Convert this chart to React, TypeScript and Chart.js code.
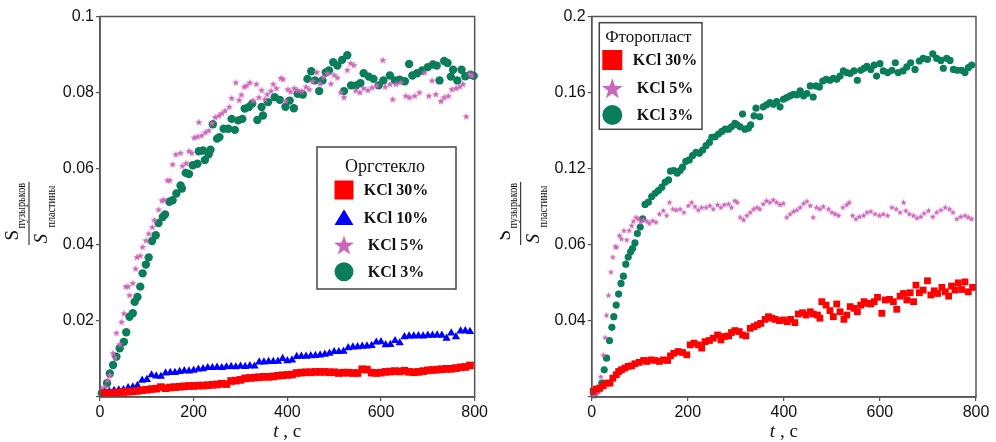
import React, { useEffect, useRef } from "react";
import { Chart, registerables } from "chart.js";

Chart.register(...registerables);

// ---------- tick labels ----------
const xTickLabels = ["0", "200", "400", "600", "800"];
const orgYTickLabels = ["", "0.02", "0.04", "0.06", "0.08", "0.1"];
const ftYTickLabels = ["", "0.04", "0.06", "0.12", "0.16", "0.2"];

// ---------- series labels ----------
const label30 = "KCl 30%";
const label10 = "KCl 10%";
const label5 = "KCl 5%";
const label3 = "KCl 3%";
const orgTitle = "Оргстекло";
const ftTitle = "Фторопласт";

// ---------- Оргстекло (left) : [t, S/S] ----------
const org30: [number, number][] = [
  [10, 0.0010], [20, 0.0010], [30, 0.0011], [40, 0.0012], [50, 0.0013], [60, 0.0014], [70, 0.0015], [80, 0.0016], [90, 0.0018], [100, 0.0019],
  [110, 0.0021], [120, 0.0022], [130, 0.0026], [140, 0.0023], [150, 0.0025], [160, 0.0026], [170, 0.0027], [180, 0.0028], [190, 0.0029], [200, 0.0029],
  [210, 0.0030], [220, 0.0030], [230, 0.0031], [240, 0.0032], [250, 0.0033], [260, 0.0035], [270, 0.0034], [280, 0.0042], [290, 0.0043], [300, 0.0045],
  [310, 0.0049], [320, 0.0050], [330, 0.0051], [340, 0.0052], [350, 0.0053], [360, 0.0053], [370, 0.0054], [380, 0.0056], [390, 0.0057], [400, 0.0058],
  [410, 0.0059], [420, 0.0063], [430, 0.0064], [440, 0.0065], [450, 0.0065], [460, 0.0066], [470, 0.0066], [480, 0.0066], [490, 0.0065], [500, 0.0065],
  [510, 0.0063], [520, 0.0064], [530, 0.0064], [540, 0.0063], [550, 0.0063], [560, 0.0073], [570, 0.0072], [580, 0.0064], [590, 0.0063], [600, 0.0064],
  [610, 0.0066], [620, 0.0067], [630, 0.0068], [640, 0.0067], [650, 0.0069], [660, 0.0066], [670, 0.0065], [680, 0.0066], [690, 0.0068], [700, 0.0070],
  [710, 0.0071], [720, 0.0072], [730, 0.0073], [740, 0.0074], [750, 0.0074], [760, 0.0076], [770, 0.0078], [780, 0.0079], [790, 0.0083],
];

const org10: [number, number][] = [
  [10, 0.0012], [20, 0.0014], [30, 0.0017], [40, 0.0018], [50, 0.0019], [60, 0.0024], [70, 0.0026], [80, 0.0030], [90, 0.0044], [100, 0.0046],
  [110, 0.0058], [120, 0.0055], [130, 0.0054], [140, 0.0063], [150, 0.0064], [160, 0.0064], [170, 0.0067], [180, 0.0069], [190, 0.0068], [200, 0.0070],
  [210, 0.0073], [220, 0.0074], [230, 0.0077], [240, 0.0077], [250, 0.0078], [260, 0.0077], [270, 0.0079], [280, 0.0080], [290, 0.0079], [300, 0.0081],
  [310, 0.0080], [320, 0.0082], [330, 0.0081], [340, 0.0092], [350, 0.0092], [360, 0.0093], [370, 0.0093], [380, 0.0094], [390, 0.0101], [400, 0.0095],
  [410, 0.0097], [420, 0.0106], [430, 0.0107], [440, 0.0107], [450, 0.0108], [460, 0.0109], [470, 0.0110], [480, 0.0112], [490, 0.0115], [500, 0.0119],
  [510, 0.0119], [520, 0.0120], [530, 0.0129], [540, 0.0131], [550, 0.0132], [560, 0.0133], [570, 0.0134], [580, 0.0135], [590, 0.0144], [600, 0.0145],
  [610, 0.0137], [620, 0.0138], [630, 0.0148], [640, 0.0142], [650, 0.0158], [660, 0.0160], [670, 0.0160], [680, 0.0161], [690, 0.0160], [700, 0.0162],
  [710, 0.0162], [720, 0.0163], [730, 0.0162], [740, 0.0154], [750, 0.0168], [760, 0.0158], [770, 0.0173], [780, 0.0174], [790, 0.0172],
];

const org5: [number, number][] = [
  [4, 0.0023], [11, 0.0027], [16, 0.0045], [21, 0.0058], [28, 0.0116], [32, 0.0104], [35, 0.0169], [42, 0.0139], [46, 0.0198], [51, 0.0220],
  [55, 0.0291], [60, 0.0291], [63, 0.0268], [70, 0.0300], [76, 0.0338], [79, 0.0368], [86, 0.0372], [91, 0.0395], [98, 0.0412], [104, 0.0430],
  [112, 0.0447], [116, 0.0466], [125, 0.0493], [132, 0.0517], [137, 0.0519], [144, 0.0570], [149, 0.0570], [155, 0.0612], [162, 0.0638], [172, 0.0642],
  [176, 0.0608], [184, 0.0615], [190, 0.0647], [196, 0.0642], [201, 0.0682], [208, 0.0685], [211, 0.0723], [217, 0.0688], [225, 0.0696], [232, 0.0701],
  [239, 0.0720], [246, 0.0736], [254, 0.0740], [260, 0.0746], [267, 0.0753], [276, 0.0763], [281, 0.0786], [290, 0.0827], [297, 0.0781], [302, 0.0795],
  [308, 0.0816], [313, 0.0819], [320, 0.0827], [327, 0.0780], [334, 0.0823], [339, 0.0788], [345, 0.0807], [352, 0.0783], [357, 0.0796], [365, 0.0805],
  [370, 0.0823], [377, 0.0812], [386, 0.0839], [391, 0.0836], [396, 0.0779], [401, 0.0809], [407, 0.0803], [415, 0.0812], [422, 0.0807], [431, 0.0805],
  [440, 0.0816], [447, 0.0809], [454, 0.0830], [463, 0.0854], [470, 0.0824], [477, 0.0842], [486, 0.0851], [493, 0.0824], [500, 0.0847], [507, 0.0840],
  [514, 0.0801], [521, 0.0788], [528, 0.0860], [535, 0.0878], [542, 0.0873], [546, 0.0806], [555, 0.0801], [563, 0.0812], [572, 0.0807], [581, 0.0814],
  [591, 0.0819], [604, 0.0886], [609, 0.0816], [619, 0.0823], [625, 0.0783], [632, 0.0823], [642, 0.0827], [653, 0.0792], [661, 0.0788], [672, 0.0792],
  [682, 0.0801], [693, 0.0853], [702, 0.0792], [709, 0.0832], [717, 0.0796], [728, 0.0778], [735, 0.0788], [744, 0.0792], [751, 0.0809], [760, 0.0812],
  [768, 0.0816], [775, 0.0823], [782, 0.0738], [790, 0.0849], [795, 0.0845],
];

const org3: [number, number][] = [
  [4, 0.0010], [15, 0.0036], [21, 0.0062], [28, 0.0084], [35, 0.0106], [42, 0.0128], [51, 0.0145], [56, 0.0170], [63, 0.0211], [70, 0.0220],
  [74, 0.0250], [80, 0.0263], [86, 0.0290], [91, 0.0325], [98, 0.0348], [104, 0.0367], [111, 0.0410], [119, 0.0425], [125, 0.0457], [134, 0.0473],
  [139, 0.0480], [148, 0.0513], [155, 0.0517], [163, 0.0535], [172, 0.0556], [175, 0.0548], [183, 0.0589], [190, 0.0586], [198, 0.0609], [208, 0.0613],
  [211, 0.0646], [220, 0.0648], [224, 0.0623], [232, 0.0638], [236, 0.0650], [241, 0.0717], [250, 0.0679], [255, 0.0683], [264, 0.0705], [274, 0.0705],
  [281, 0.0731], [288, 0.0702], [295, 0.0727], [304, 0.0731], [309, 0.0758], [318, 0.0762], [325, 0.0771], [336, 0.0728], [345, 0.0762], [348, 0.0740],
  [359, 0.0775], [373, 0.0788], [384, 0.0781], [396, 0.0763], [405, 0.0779], [414, 0.0759], [422, 0.0797], [433, 0.0795], [443, 0.0836], [451, 0.0856],
  [459, 0.0832], [468, 0.0804], [475, 0.0832], [482, 0.0853], [489, 0.0858], [498, 0.0880], [507, 0.0871], [517, 0.0886], [521, 0.0804], [528, 0.0898],
  [536, 0.0819], [547, 0.0819], [556, 0.0825], [563, 0.0851], [574, 0.0842], [584, 0.0836], [595, 0.0819], [605, 0.0832], [619, 0.0845], [630, 0.0832],
  [640, 0.0834], [651, 0.0830], [660, 0.0875], [667, 0.0845], [677, 0.0851], [688, 0.0858], [700, 0.0867], [711, 0.0874], [719, 0.0871], [725, 0.0832],
  [735, 0.0883], [742, 0.0878], [749, 0.0842], [754, 0.0860], [763, 0.0832], [772, 0.0860], [780, 0.0843], [791, 0.0847], [798, 0.0844],
];

// ---------- Фторопласт (right) : [t, S/S] ----------
const ft30: [number, number][] = [
  [3, 0.0030], [10, 0.0042], [17, 0.0047], [24, 0.0059], [31, 0.0073], [38, 0.0073], [44, 0.0099], [51, 0.0117], [56, 0.0134], [62, 0.0143],
  [69, 0.0152], [76, 0.0161], [83, 0.0164], [90, 0.0175], [99, 0.0182], [108, 0.0192], [115, 0.0187], [123, 0.0195], [132, 0.0192], [141, 0.0187],
  [149, 0.0195], [158, 0.0192], [164, 0.0216], [171, 0.0230], [180, 0.0239], [189, 0.0234], [198, 0.0222], [205, 0.0274], [213, 0.0283], [222, 0.0274],
  [229, 0.0257], [236, 0.0291], [245, 0.0297], [253, 0.0309], [262, 0.0326], [269, 0.0300], [276, 0.0318], [285, 0.0321], [291, 0.0339], [298, 0.0349],
  [307, 0.0344], [314, 0.0326], [321, 0.0321], [330, 0.0361], [338, 0.0370], [345, 0.0379], [352, 0.0387], [361, 0.0408], [368, 0.0422], [375, 0.0414],
  [382, 0.0408], [391, 0.0401], [399, 0.0405], [407, 0.0396], [414, 0.0408], [423, 0.0391], [430, 0.0436], [439, 0.0443], [446, 0.0431], [455, 0.0448],
  [461, 0.0436], [470, 0.0431], [475, 0.0414], [479, 0.0501], [488, 0.0483], [496, 0.0454], [503, 0.0422], [510, 0.0489], [517, 0.0448], [525, 0.0408],
  [531, 0.0431], [538, 0.0475], [546, 0.0466], [553, 0.0448], [560, 0.0483], [567, 0.0501], [574, 0.0492], [581, 0.0489], [588, 0.0501], [595, 0.0524],
  [604, 0.0440], [611, 0.0510], [620, 0.0513], [628, 0.0501], [635, 0.0461], [642, 0.0530], [649, 0.0544], [656, 0.0510], [663, 0.0548], [670, 0.0501],
  [675, 0.0588], [682, 0.0548], [690, 0.0562], [699, 0.0611], [706, 0.0536], [713, 0.0558], [720, 0.0544], [729, 0.0576], [736, 0.0553], [743, 0.0530],
  [749, 0.0583], [756, 0.0562], [763, 0.0600], [770, 0.0565], [777, 0.0605], [784, 0.0553], [793, 0.0576],
];

const ft5: [number, number][] = [
  [5, 0.0007], [10, 0.0021], [15, 0.0030], [19, 0.0108], [24, 0.0222], [28, 0.0314], [31, 0.0431], [35, 0.0536], [40, 0.0658], [44, 0.0736],
  [49, 0.0792], [52, 0.0789], [58, 0.0850], [62, 0.0832], [67, 0.0876], [73, 0.0827], [78, 0.0876], [83, 0.0902], [87, 0.0925], [92, 0.0946],
  [97, 0.0937], [102, 0.0920], [108, 0.0932], [115, 0.0925], [120, 0.0914], [127, 0.0928], [134, 0.0920], [141, 0.0963], [149, 0.0981], [156, 0.0955],
  [162, 0.1024], [169, 0.0989], [176, 0.0984], [184, 0.0989], [192, 0.0972], [201, 0.1007], [208, 0.1024], [215, 0.1002], [222, 0.0984], [229, 0.0998],
  [238, 0.0998], [246, 0.1007], [253, 0.0989], [262, 0.1012], [269, 0.0998], [276, 0.1012], [285, 0.1016], [291, 0.0998], [298, 0.1033], [303, 0.1024],
  [309, 0.0946], [316, 0.0932], [323, 0.0955], [330, 0.0972], [337, 0.0989], [344, 0.0998], [350, 0.0989], [357, 0.1016], [364, 0.1033], [371, 0.1024],
  [378, 0.1037], [385, 0.1024], [392, 0.1012], [399, 0.1019], [406, 0.0946], [413, 0.0963], [420, 0.0977], [427, 0.0984], [434, 0.0998], [441, 0.1019],
  [448, 0.1030], [455, 0.1007], [461, 0.0946], [468, 0.0998], [475, 0.0989], [482, 0.1002], [493, 0.0989], [500, 0.0972], [507, 0.0963], [514, 0.0955],
  [523, 0.0998], [531, 0.1012], [536, 0.1024], [543, 0.0955], [550, 0.0937], [557, 0.0949], [566, 0.0955], [573, 0.0972], [581, 0.0977], [590, 0.0963],
  [599, 0.0955], [607, 0.0963], [616, 0.0955], [625, 0.0998], [634, 0.0989], [642, 0.0972], [649, 0.1024], [654, 0.0981], [661, 0.0963], [670, 0.0955],
  [677, 0.0942], [685, 0.0949], [692, 0.0967], [701, 0.0981], [710, 0.0949], [718, 0.0972], [727, 0.0984], [736, 0.0998], [745, 0.0989], [752, 0.0972],
  [760, 0.0937], [768, 0.0949], [777, 0.0955], [784, 0.0946], [791, 0.0937],
];

const ft3: [number, number][] = [
  [5, 0.0012], [10, 0.0030], [16, 0.0042], [21, 0.0073], [26, 0.0143], [31, 0.0204], [37, 0.0297], [42, 0.0366], [46, 0.0422], [51, 0.0483],
  [56, 0.0541], [61, 0.0597], [66, 0.0635], [71, 0.0698], [76, 0.0736], [81, 0.0763], [85, 0.0780], [90, 0.0810], [95, 0.0859], [101, 0.0893],
  [106, 0.0937], [111, 0.1012], [118, 0.1024], [125, 0.1054], [132, 0.1071], [139, 0.1085], [146, 0.1103], [153, 0.1129], [160, 0.1141], [164, 0.1187],
  [171, 0.1190], [178, 0.1176], [184, 0.1190], [189, 0.1208], [196, 0.1239], [203, 0.1246], [210, 0.1269], [217, 0.1286], [224, 0.1281], [231, 0.1298],
  [238, 0.1321], [245, 0.1338], [250, 0.1365], [257, 0.1368], [264, 0.1382], [271, 0.1396], [278, 0.1408], [285, 0.1408], [291, 0.1420], [298, 0.1438],
  [303, 0.1431], [309, 0.1420], [314, 0.1487], [319, 0.1408], [326, 0.1413], [331, 0.1431], [338, 0.1478], [342, 0.1518], [350, 0.1473], [357, 0.1525],
  [364, 0.1536], [371, 0.1548], [378, 0.1539], [385, 0.1553], [392, 0.1525], [399, 0.1565], [406, 0.1574], [413, 0.1583], [420, 0.1591], [427, 0.1588],
  [434, 0.1609], [441, 0.1583], [448, 0.1595], [455, 0.1635], [461, 0.1577], [467, 0.1635], [474, 0.1630], [481, 0.1661], [488, 0.1670], [496, 0.1665],
  [503, 0.1675], [510, 0.1670], [517, 0.1687], [524, 0.1714], [531, 0.1705], [538, 0.1700], [546, 0.1714], [553, 0.1665], [560, 0.1717], [567, 0.1728],
  [573, 0.1738], [581, 0.1722], [588, 0.1745], [593, 0.1687], [600, 0.1752], [607, 0.1714], [616, 0.1705], [625, 0.1717], [632, 0.1757], [638, 0.1705],
  [648, 0.1714], [656, 0.1735], [664, 0.1757], [673, 0.1722], [682, 0.1766], [690, 0.1780], [699, 0.1775], [710, 0.1804], [718, 0.1780], [727, 0.1769],
  [732, 0.1728], [739, 0.1780], [746, 0.1769], [753, 0.1722], [761, 0.1717], [770, 0.1717], [777, 0.1705], [784, 0.1731], [791, 0.1745],
];

// ---------- styles ----------
const RED = "#ff0000";
const BLUE = "#0000ff";
const PINK = "#cc66bb";
const GREEN = "#0a7d5a";
const AXIS = "#555555";
const TEXT = "#111111";

type MarkerKind = "square" | "triangle" | "star" | "circle";

function starPath(ctx: CanvasRenderingContext2D, cx: number, cy: number, ro: number, ri: number) {
  ctx.beginPath();
  for (let i = 0; i < 10; i++) {
    const r = i % 2 === 0 ? ro : ri;
    const a = -Math.PI / 2 + (i * Math.PI) / 5;
    const px = cx + r * Math.cos(a);
    const py = cy + r * Math.sin(a);
    if (i === 0) ctx.moveTo(px, py);
    else ctx.lineTo(px, py);
  }
  ctx.closePath();
}

function makeStarImage(size: number, color: string): HTMLCanvasElement {
  const c = document.createElement("canvas");
  c.width = size;
  c.height = size;
  const g = c.getContext("2d")!;
  g.fillStyle = color;
  starPath(g, size / 2, size / 2 + size * 0.06, size / 2, size / 5);
  g.fill();
  return c;
}

function drawMarker(ctx: CanvasRenderingContext2D, kind: MarkerKind, cx: number, cy: number, s: number, color: string) {
  ctx.fillStyle = color;
  if (kind === "square") {
    ctx.fillRect(cx - s / 2, cy - s / 2, s, s);
  } else if (kind === "triangle") {
    ctx.beginPath();
    ctx.moveTo(cx, cy - s * 0.45);
    ctx.lineTo(cx + s / 2, cy + s * 0.38);
    ctx.lineTo(cx - s / 2, cy + s * 0.38);
    ctx.closePath();
    ctx.fill();
  } else if (kind === "star") {
    starPath(ctx, cx, cy + s * 0.05, s * 0.55, s * 0.22);
    ctx.fill();
  } else {
    ctx.beginPath();
    ctx.arc(cx, cy, s / 2, 0, Math.PI * 2);
    ctx.fill();
  }
}

type LegendSpec = {
  title: string;
  box: [number, number, number, number];
  titleX: number;
  titleY: number;
  titleFont: string;
  markerX: number;
  textX: number;
  rows: number[];
  size: number;
  items: { label: string; kind: MarkerKind; color: string }[];
};

function decorPlugin(legend: LegendSpec) {
  return {
    id: "decor",
    afterDraw(chart: any) {
      const ctx: CanvasRenderingContext2D = chart.ctx;
      const a = chart.chartArea;
      ctx.save();
      // frame
      ctx.strokeStyle = AXIS;
      ctx.lineWidth = 1.5;
      ctx.strokeRect(a.left, a.top, a.right - a.left, a.bottom - a.top);

      // y title (fraction)
      ctx.save();
      ctx.translate(a.left - 71, 213.5);
      ctx.rotate(-Math.PI / 2);
      ctx.strokeStyle = TEXT;
      ctx.fillStyle = TEXT;
      ctx.lineWidth = 1;
      ctx.beginPath();
      ctx.moveTo(-31.5, 0);
      ctx.lineTo(31.5, 0);
      ctx.stroke();
      ctx.textAlign = "left";
      ctx.textBaseline = "alphabetic";
      ctx.font = "19px 'Liberation Serif'";
      ctx.fillText("S", -27, -11);
      ctx.font = "italic 19px 'Liberation Serif'";
      ctx.fillText("S", -30, 18);
      ctx.save();
      ctx.scale(0.85, 1);
      ctx.font = "12px 'Liberation Serif'";
      ctx.fillText("пузырьков", -15 / 0.85, -4);
      ctx.fillText("пластины", -14 / 0.85, 26);
      ctx.restore();
      ctx.restore();

      // x title
      const cx = (a.left + a.right) / 2;
      ctx.fillStyle = TEXT;
      ctx.textBaseline = "alphabetic";
      ctx.textAlign = "left";
      ctx.font = "italic 19px 'Liberation Serif'";
      const wT = ctx.measureText("t").width;
      ctx.font = "19px 'Liberation Serif'";
      const rest = " , с";
      const wR = ctx.measureText(rest).width;
      const x0 = cx - (wT + wR) / 2;
      ctx.font = "italic 19px 'Liberation Serif'";
      ctx.fillText("t", x0, 437);
      ctx.font = "19px 'Liberation Serif'";
      ctx.fillText(rest, x0 + wT, 437);

      // legend
      const [bx, by, bw, bh] = legend.box;
      ctx.fillStyle = "#ffffff";
      ctx.fillRect(bx, by, bw, bh);
      ctx.strokeStyle = "#444444";
      ctx.lineWidth = 1.5;
      ctx.strokeRect(bx, by, bw, bh);
      ctx.fillStyle = TEXT;
      ctx.textAlign = "center";
      ctx.textBaseline = "alphabetic";
      ctx.font = legend.titleFont;
      ctx.fillText(legend.title, legend.titleX, legend.titleY);
      ctx.font = "bold 16px 'Liberation Serif'";
      ctx.textBaseline = "middle";
      legend.items.forEach((it, i) => {
        const y = legend.rows[i];
        drawMarker(ctx, it.kind, legend.markerX, y, legend.size, it.color);
        ctx.fillStyle = TEXT;
        ctx.fillText(it.label, legend.textX, y + 1);
      });
      ctx.restore();
    },
  };
}

function toPoints(arr: [number, number][]) {
  return arr.map(([x, y]) => ({ x, y }));
}

function axisCommon() {
  return {
    grid: { display: true, drawOnChartArea: false, drawTicks: true, tickLength: 4, color: AXIS, lineWidth: 1.2 },
    border: { display: true, color: AXIS, width: 1.5 },
  };
}

function buildConfig(opts: {
  datasets: any[];
  yMax: number;
  yStep: number;
  yLabels: string[];
  yWidth: number;
  padRight: number;
  legend: LegendSpec;
}) {
  const tickFont = { family: "'Liberation Sans', Arial, sans-serif", size: 16 };
  return {
    type: "scatter" as const,
    data: { datasets: opts.datasets },
    options: {
      animation: false,
      responsive: false,
      events: [],
      layout: { autoPadding: false, padding: { left: 0, right: opts.padRight, top: 16.5, bottom: 0 } },
      plugins: { legend: { display: false }, tooltip: { enabled: false } },
      scales: {
        x: {
          type: "linear",
          min: 0,
          max: 800,
          afterFit: (s: any) => {
            s.height = 45;
          },
          ticks: {
            stepSize: 200,
            autoSkip: false,
            maxRotation: 0,
            padding: 2,
            color: TEXT,
            font: tickFont,
            callback: (_v: any, i: number) => xTickLabels[i],
          },
          ...axisCommon(),
        },
        y: {
          type: "linear",
          min: 0,
          max: opts.yMax,
          afterFit: (s: any) => {
            s.width = opts.yWidth;
          },
          ticks: {
            stepSize: opts.yStep,
            autoSkip: false,
            padding: 2,
            color: TEXT,
            font: tickFont,
            callback: (_v: any, i: number) => opts.yLabels[i],
          },
          ...axisCommon(),
        },
      },
    },
    plugins: [decorPlugin(opts.legend)],
  };
}

function ds(label: string, data: [number, number][], color: string, style: any, radius: number, order: number) {
  return {
    label,
    data: toPoints(data),
    pointStyle: style,
    pointRadius: radius,
    pointBackgroundColor: color,
    pointBorderColor: color,
    pointBorderWidth: 0,
    backgroundColor: color,
    borderColor: color,
    showLine: false,
    clip: false,
    order,
  };
}

export default function App() {
  const leftRef = useRef<HTMLCanvasElement>(null);
  const rightRef = useRef<HTMLCanvasElement>(null);

  useEffect(() => {
    const starL = makeStarImage(8, PINK);
    const starR = makeStarImage(7, PINK);

    const left = new Chart(
      leftRef.current!,
      buildConfig({
        datasets: [
          ds(label30, org30, RED, "rect", 5.4, 0),
          ds(label10, org10, BLUE, "triangle", 4.8, 1),
          ds(label5, org5, PINK, starL, 4, 2),
          ds(label3, org3, GREEN, "circle", 4.2, 3),
        ],
        yMax: 0.1,
        yStep: 0.02,
        yLabels: orgYTickLabels,
        yWidth: 100,
        padRight: 11,
        legend: {
          title: orgTitle,
          box: [317, 147, 139, 142],
          titleX: 385,
          titleY: 171.5,
          titleFont: "18px 'Liberation Serif'",
          markerX: 344,
          textX: 396,
          rows: [190, 217.7, 245, 271.7],
          size: 19,
          items: [
            { label: label30, kind: "square", color: RED },
            { label: label10, kind: "triangle", color: BLUE },
            { label: label5, kind: "star", color: PINK },
            { label: label3, kind: "circle", color: GREEN },
          ],
        },
      }) as any
    );

    const right = new Chart(
      rightRef.current!,
      buildConfig({
        datasets: [
          ds(label30, ft30, RED, "rect", 4.8, 0),
          ds(label5, ft5, PINK, starR, 3.5, 1),
          ds(label3, ft3, GREEN, "circle", 3.6, 2),
        ],
        yMax: 0.2,
        yStep: 0.04,
        yLabels: ftYTickLabels,
        yWidth: 91.7,
        padRight: 20,
        legend: {
          title: ftTitle,
          box: [99.3, 22.7, 102.7, 106.6],
          titleX: 148.3,
          titleY: 41.7,
          titleFont: "17px 'Liberation Serif'",
          markerX: 112.3,
          textX: 165,
          rows: [60, 88.3, 115],
          size: 20,
          items: [
            { label: label30, kind: "square", color: RED },
            { label: label5, kind: "star", color: PINK },
            { label: label3, kind: "circle", color: GREEN },
          ],
        },
      }) as any
    );

    return () => {
      left.destroy();
      right.destroy();
    };
  }, []);

  return (
    <div style={{ position: "absolute", left: 0, top: 0, width: 996, height: 442, background: "#ffffff", overflow: "hidden" }}>
      <canvas ref={leftRef} width={490} height={442} style={{ position: "absolute", left: 0, top: 0, width: 490, height: 442 }} />
      <canvas ref={rightRef} width={496} height={442} style={{ position: "absolute", left: 500, top: 0, width: 496, height: 442 }} />
    </div>
  );
}
